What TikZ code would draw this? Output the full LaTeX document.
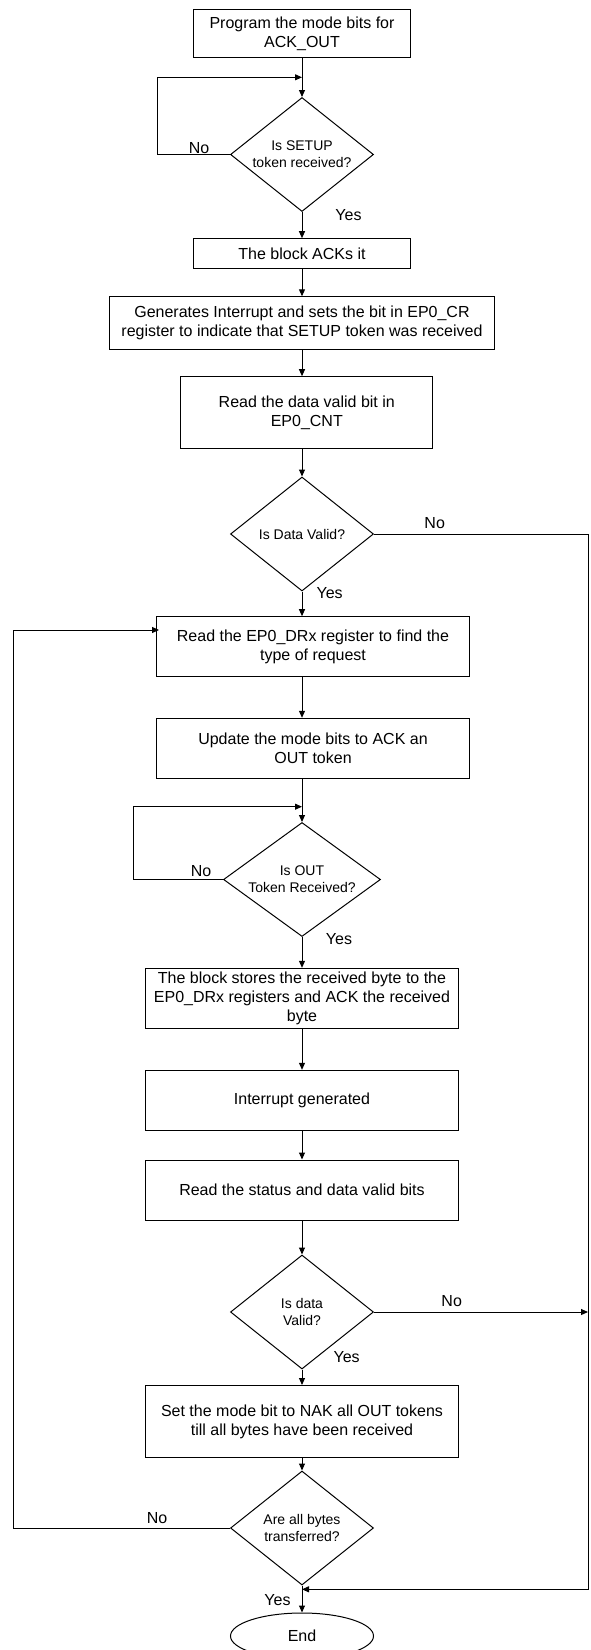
\documentclass[tikz,border=0pt]{standalone}
\usepackage{fontspec}
\setmainfont{Liberation Sans}
\usetikzlibrary{arrows.meta, calc, shapes.geometric}

\begin{document}
\begin{tikzpicture}[x=1pt, y=-1pt,
    every node/.style={font=\fontsize{16}{19}\selectfont},
    box/.style={draw, line width=1pt, rectangle, inner sep=0pt, align=center, minimum width=313pt, minimum height=60pt},
    decision/.style={draw, line width=1pt, diamond, inner sep=0pt, align=center, aspect=1.26, minimum width=143pt, minimum height=114pt, font=\fontsize{14}{17}\selectfont},
    terminal/.style={draw, line width=1pt, ellipse, inner sep=0pt, minimum width=143pt, minimum height=46pt},
    flow/.style={line width=1pt, -{Triangle[length=7pt, width=6pt]}}]
    \useasboundingbox (0,0) rectangle (591,1650);

    % Boxes and decisions
    \node[box, minimum width=217pt, minimum height=48pt] (prog) at (302,33.3) {Program the mode bits for\\ACK\_OUT};
    \node[decision] (setup) at (302,154.5) {Is SETUP\\token received?};
    \node[box, minimum width=217pt, minimum height=30pt] (acks) at (302,253.7) {The block ACKs it};
    \node[box, minimum width=385pt, minimum height=53pt] (intr) at (302,323.3) {Generates Interrupt and sets the bit in EP0\_CR\\register to indicate that SETUP token was received};
    \node[box, minimum width=252pt, minimum height=72pt] (readcnt) at (306.8,412.7) {Read the data valid bit in\\EP0\_CNT};
    \node[decision] (valid1) at (302,534) {Is Data Valid?};
    \node[box] (drx) at (313,646.7) {Read the EP0\_DRx register to find the\\type of request};
    \node[box] (upd) at (313,748.3) {Update the mode bits to ACK an\\OUT token};
    \node[decision, aspect=1.37, minimum width=157pt] (outtok) at (302,879.5) {Is OUT\\Token Received?};
    \node[box] (store) at (302,998.3) {The block stores the received byte to the\\EP0\_DRx registers and ACK the received\\byte};
    \node[box] (igen) at (302,1100.3) {Interrupt generated};
    \node[box] (status) at (302,1190) {Read the status and data valid bits};
    \node[decision] (valid2) at (302,1312) {Is data\\Valid?};
    \node[box, minimum height=72pt] (nak) at (302,1421.5) {Set the mode bit to NAK all OUT tokens\\till all bytes have been received};
    \node[decision] (alldone) at (302,1528) {Are all bytes\\transferred?};
    \node[terminal] (end) at (302,1636) {End};

    % Joints
    \coordinate (j1) at (302,77.3);
    \coordinate (j3) at (302,806.7);
    \coordinate (j5) at (159,630);
    \coordinate (railbot) at (588,1589.3);

    % Main line
    \draw[flow] (prog.south) -- (setup.north);
    \draw[flow] (setup.south) -- (acks.north);
    \draw[flow] (acks.south) -- (intr.north);
    \draw[flow] (intr.south) -- (intr.south |- readcnt.north);
    \draw[flow] (readcnt.south -| valid1.north) -- (valid1.north);
    \draw[flow] (valid1.south) -- (valid1.south |- drx.north);
    \draw[flow] (valid1.south |- drx.south) -- (valid1.south |- upd.north);
    \draw[flow] (valid1.south |- upd.south) -- (outtok.north);
    \draw[flow] (outtok.south) -- (store.north);
    \draw[flow] (store.south) -- (igen.north);
    \draw[flow] (igen.south) -- (status.north);
    \draw[flow] (status.south) -- (valid2.north);
    \draw[flow] (valid2.south) -- (nak.north);
    \draw[flow] (nak.south) -- (alldone.north);
    \draw[flow] (alldone.south) -- (end.north);

    % Loops and rails
    \draw[flow] (setup.west) -- ++(-72.6,0) |- (j1);
    \draw[flow] (outtok.west) -- ++(-90,0) |- (j3);
    \draw[flow] (alldone.west) -- ++(-217,0) |- (j5);
    \draw[flow] (valid1.east) -| (railbot) -- (railbot -| alldone.south);
    \draw[flow] (valid2.east) -- (valid2.east -| railbot);

    % Labels
    \node (no1) at (199,148.3) {No};
    \node (yes1) at (348.5,215.3) {Yes};
    \node (no2) at (434.7,522.7) {No};
    \node (yes2) at (329.6,593.3) {Yes};
    \node (no3) at (201,870.7) {No};
    \node (yes3) at (339,939.3) {Yes};
    \node (no4) at (451.7,1300.7) {No};
    \node (yes4) at (346.6,1356.7) {Yes};
    \node (no5) at (157,1517.7) {No};
    \node (yes5) at (277.5,1600) {Yes};
\end{tikzpicture}
\end{document}
